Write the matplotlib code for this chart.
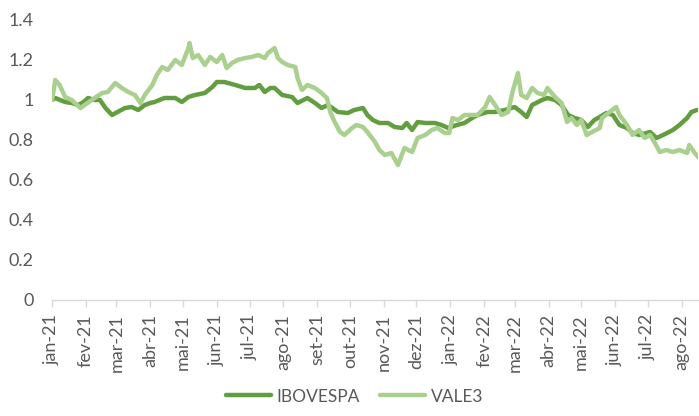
import matplotlib
matplotlib.use("Agg")
import matplotlib.pyplot as plt
import pandas as pd

# ---- data (days since 2021-01-01, normalized value) ----
ibov_days = [0, 3, 12, 18, 24, 29, 33, 39, 44, 49, 55, 60, 67, 73, 79, 85, 90, 94,
             103, 113, 119, 125, 131, 140, 147, 151, 158, 168, 177, 186, 190, 195, 200,
             204, 211, 220, 225, 234, 241, 247, 253, 262, 271, 277, 285, 289, 294, 300,
             308, 314, 321, 325, 330, 335, 342, 351, 357, 363, 371, 378, 385, 390, 399,
             406, 415, 424, 430, 435, 440, 449, 454, 461, 467, 473, 479, 485, 491, 497,
             502, 508, 514, 520, 527, 532, 538, 548, 554, 560, 569, 575, 582, 586, 591]
ibov_vals = [1.00, 1.01, 0.99, 0.985, 0.975, 0.99, 1.01, 1.0, 1.0, 0.96, 0.925, 0.94, 0.96,
             0.965, 0.95, 0.975, 0.985, 0.99, 1.01, 1.01, 0.99, 1.015, 1.025, 1.035, 1.065,
             1.09, 1.09, 1.075, 1.06, 1.06, 1.075, 1.04, 1.06, 1.06, 1.025, 1.015, 0.985,
             1.01, 0.985, 0.96, 0.975, 0.94, 0.935, 0.95, 0.96, 0.925, 0.90, 0.885, 0.885,
             0.865, 0.86, 0.885, 0.85, 0.89, 0.885, 0.885, 0.875, 0.86, 0.875, 0.885, 0.91,
             0.925, 0.94, 0.94, 0.95, 0.965, 0.94, 0.915, 0.975, 1.0, 1.01, 1.0, 0.975,
             0.925, 0.91, 0.90, 0.865, 0.90, 0.915, 0.935, 0.925, 0.875, 0.86, 0.835,
             0.825, 0.84, 0.81, 0.825, 0.85, 0.875, 0.91, 0.94, 0.95]

vale_days = [0, 3, 7, 12, 18, 26, 30, 39, 46, 51, 58, 64, 70, 76, 81, 85, 92, 96, 101,
             106, 113, 119, 125, 126, 129, 134, 140, 145, 151, 156, 160, 165, 170, 177,
             183, 189, 195, 198, 204, 207, 211, 216, 223, 225, 229, 234, 241, 247, 252,
             255, 259, 264, 268, 275, 279, 285, 289, 296, 300, 305, 311, 317, 323, 330,
             335, 342, 348, 353, 360, 364, 367, 372, 378, 385, 390, 397, 401, 406, 412,
             418, 422, 427, 430, 435, 440, 445, 451, 454, 461, 467, 472, 476, 481, 485,
             490, 495, 502, 504, 511, 517, 520, 527, 532, 538, 543, 548, 552, 557, 563,
             569, 575, 582, 584, 589, 593]
vale_vals = [1.00, 1.10, 1.075, 1.015, 1.0, 0.96, 0.975, 1.01, 1.035, 1.04, 1.085, 1.06,
             1.04, 1.025, 0.985, 1.025, 1.075, 1.125, 1.165, 1.15, 1.2, 1.175, 1.26, 1.285,
             1.21, 1.225, 1.175, 1.215, 1.19, 1.225, 1.16, 1.185, 1.2, 1.21, 1.215, 1.225,
             1.21, 1.235, 1.26, 1.21, 1.19, 1.175, 1.165, 1.11, 1.05, 1.075, 1.06, 1.035,
             1.01, 0.94, 0.89, 0.84, 0.825, 0.86, 0.875, 0.865, 0.84, 0.79, 0.75, 0.725,
             0.735, 0.675, 0.76, 0.74, 0.81, 0.825, 0.85, 0.86, 0.835, 0.835, 0.91, 0.90,
             0.925, 0.925, 0.925, 0.965, 1.015, 0.975, 0.925, 0.94, 1.04, 1.135, 1.025,
             1.01, 1.06, 1.035, 1.025, 1.06, 1.015, 0.985, 0.89, 0.91, 0.875, 0.90, 0.825,
             0.84, 0.86, 0.91, 0.94, 0.965, 0.925, 0.875, 0.825, 0.85, 0.81, 0.825, 0.79,
             0.74, 0.75, 0.74, 0.75, 0.735, 0.775, 0.735, 0.71]

series_names = ["IBOVESPA", "VALE3"]
month_ticks = ["2021-01-01", "2021-02-01", "2021-03-01", "2021-04-01", "2021-05-01",
               "2021-06-01", "2021-07-01", "2021-08-01", "2021-09-01", "2021-10-01",
               "2021-11-01", "2021-12-01", "2022-01-01", "2022-02-01", "2022-03-01",
               "2022-04-01", "2022-05-01", "2022-06-01", "2022-07-01", "2022-08-01"]
month_labels = ["jan-21", "fev-21", "mar-21", "abr-21", "mai-21", "jun-21", "jul-21",
                "ago-21", "set-21", "out-21", "nov-21", "dez-21", "jan-22", "fev-22",
                "mar-22", "abr-22", "mai-22", "jun-22", "jul-22", "ago-22"]
y_ticks = [0, 0.2, 0.4, 0.6, 0.8, 1.0, 1.2, 1.4]
y_labels = ["0", "0.2", "0.4", "0.6", "0.8", "1", "1.2", "1.4"]

# ---- plot ----
plt.rcParams["font.family"] = ["Lato", "DejaVu Sans"]
base = pd.Timestamp("2021-01-01")
ibov_dates = base + pd.to_timedelta(ibov_days, unit="D")
vale_dates = base + pd.to_timedelta(vale_days, unit="D")

fig = plt.figure(figsize=(6.99, 4.16), dpi=100)
ax = fig.add_axes([52 / 699, 1 - 300 / 416, (698 - 52) / 699, (300 - 20) / 416])

dark = "#629E3F"
light = "#A9D08E"
ax.plot(ibov_dates, ibov_vals, color=dark, lw=3.2, label=series_names[0],
        solid_capstyle="round", solid_joinstyle="round")
ax.plot(vale_dates, vale_vals, color=light, lw=3.2, label=series_names[1],
        solid_capstyle="round", solid_joinstyle="round")

ax.set_xlim(base, base + pd.Timedelta(days=592))
ax.set_ylim(0, 1.4)
ax.set_yticks(y_ticks)
ax.set_yticklabels(y_labels)
ax.set_xticks(pd.to_datetime(month_ticks))
ax.set_xticklabels(month_labels, rotation=90)

for s in ["top", "right", "left"]:
    ax.spines[s].set_visible(False)
ax.spines["bottom"].set_color("#d9d9d9")
ax.spines["bottom"].set_linewidth(1.0)
ax.tick_params(axis="y", length=0, pad=13, labelsize=13, labelcolor="#595959")
ax.tick_params(axis="x", length=5, width=1.0, color="#d9d9d9", pad=5,
               labelsize=13, labelcolor="#595959")

fig.legend(loc="lower center", bbox_to_anchor=(0.507, -0.01), ncol=2, frameon=False,
           fontsize=12.5, handlelength=2.6, columnspacing=1.2, handletextpad=0.3,
           labelcolor="#595959")

fig.savefig("out.png", dpi=100)
